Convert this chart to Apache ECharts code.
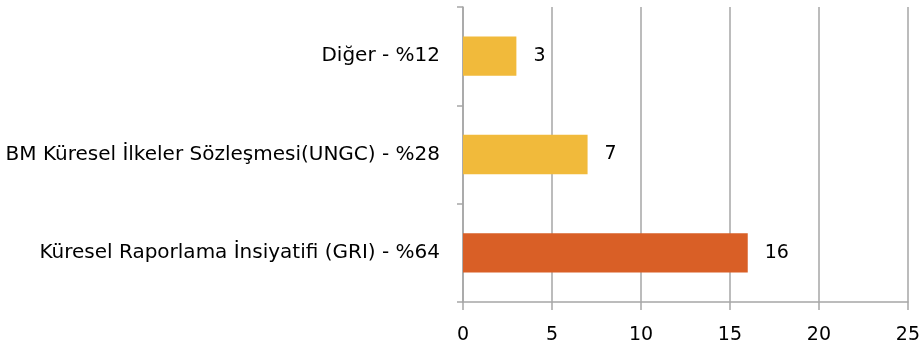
<!DOCTYPE html>
<html><head><meta charset="utf-8">
<script src="https://cdn.jsdelivr.net/npm/echarts@6/dist/echarts.min.js"></script>
<style>html,body{margin:0;padding:0;background:#fff}#c{width:923px;height:345px}</style>
</head><body><div id="c"></div>
<script>
const categories = ["Küresel Raporlama İnsiyatifi (GRI) - %64", "BM Küresel İlkeler Sözleşmesi(UNGC) - %28", "Diğer - %12"];
const values = [16, 7, 3];
const barColors = ["#D95F26", "#F1BA3B", "#F1BA3B"];
const xTicks = [0, 5, 10, 15, 20, 25];

const FONT = "DejaVu Sans";
const chart = echarts.init(document.getElementById('c'), null, {renderer: 'canvas'});
chart.setOption({
  animation: false,
  grid: {left: 463, right: 15, top: 7, bottom: 43, containLabel: false},
  xAxis: {
    type: 'value', min: xTicks[0], max: xTicks[xTicks.length - 1], interval: 5,
    axisLine: {show: true, lineStyle: {color: '#A6A6A6', width: 1.5}},
    axisTick: {show: true, length: 8, lineStyle: {color: '#A6A6A6', width: 1.5}},
    splitLine: {show: true, lineStyle: {color: '#A6A6A6', width: 1.5}},
    axisLabel: {color: '#000', fontFamily: FONT, fontSize: 19, margin: 24}
  },
  yAxis: {
    type: 'category', data: categories,
    axisLine: {show: true, lineStyle: {color: '#A6A6A6', width: 1.5}},
    axisTick: {show: true, length: 6, lineStyle: {color: '#A6A6A6', width: 1.5}},
    axisLabel: {color: '#000', fontFamily: FONT, fontSize: 20, margin: 23}
  },
  series: [{
    type: 'bar', barWidth: '40%',
    data: values.map((v, i) => ({value: v, itemStyle: {color: barColors[i]}})),
    label: {show: true, position: 'right', distance: 17, color: '#000', fontFamily: FONT, fontSize: 19}
  }]
});
</script></body></html>
